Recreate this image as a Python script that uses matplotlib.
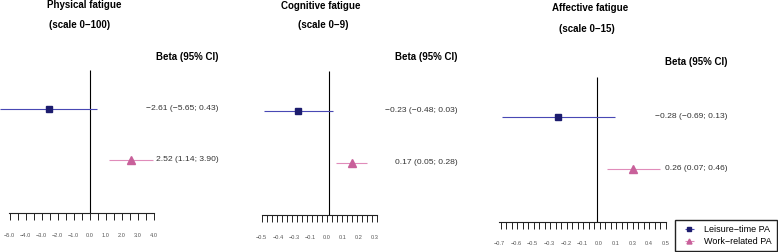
import matplotlib
matplotlib.use('Agg')

import matplotlib.pyplot as plt
import numpy as np

plt.rcParams['font.family'] = ['Liberation Sans', 'DejaVu Sans']

W, H = 778, 252

# Data
outcomes = ['Physical fatigue', 'Cognitive fatigue', 'Affective fatigue']
scales = ['(scale 0−100)', '(scale 0−9)', '(scale 0−15)']
groups = ['Leisure-time PA', 'Work-related PA']

beta_leisure = [-2.61, -0.23, -0.28]
lo_leisure = [-5.65, -0.48, -0.69]
hi_leisure = [0.43, 0.03, 0.13]

beta_work = [2.52, 0.17, 0.26]
lo_work = [1.14, 0.05, 0.07]
hi_work = [3.90, 0.28, 0.46]

tick_labels = [
    ['−5.0', '−4.0', '−3.0', '−2.0', '−1.0', '0.0', '1.0', '2.0', '3.0', '4.0'],
    ['−0.5', '−0.4', '−0.3', '−0.1', '0.0', '0.1', '0.2', '0.3'],
    ['−0.7', '−0.6', '−0.5', '−0.3', '−0.2', '−0.1', '0.0', '0.1', '0.3', '0.4', '0.5'],
]

# Layout of each panel, in pixels of the 778x252 picture
panels = [
    dict(x0=9, x1=154.3, lim=(-5.0, 4.0), axis_y=212.5, top=70, rows=(108.5, 159.5),
         n_ticks=19, lab_px=(7.5, 154), pad=14.5, text_x=219, head_y=57,
         title=(84, 5), sub=(80, 25)),
    dict(x0=261.7, x1=377.3, lim=(-0.491, 0.353), axis_y=214.5, top=71, rows=(110.5, 162.5),
         n_ticks=24, lab_px=(261, 375), pad=15, text_x=457.7, head_y=57,
         title=(321, 6), sub=(323, 25)),
    dict(x0=499.3, x1=666, lim=(-0.7, 0.5), axis_y=221.5, top=77, rows=(116.5, 168.5),
         n_ticks=31, lab_px=(498, 665.7), pad=14, text_x=727.7, head_y=62,
         title=(590, 8), sub=(587, 29)),
]

navy = '#1c1c6e'
navy_line = '#4848b4'
pink = '#c8609a'
pink_line = '#e08cba'


def fmt(b, lo, hi):
    s = f"{b:.2f} ({lo:.2f}; {hi:.2f})"
    return s.replace('-', '−')


fig = plt.figure(figsize=(W / 100, H / 100), dpi=100)
axes = []

for i, p in enumerate(panels):
    ax = fig.add_axes([p['x0'] / W, 0, (p['x1'] - p['x0']) / W, 1])
    ax.patch.set_visible(False)
    lo, hi = p['lim']
    ax.set_xlim(lo, hi)
    ax.set_ylim(H, 0)

    for side in ('left', 'right', 'top'):
        ax.spines[side].set_visible(False)
    ax.spines['bottom'].set_position(('data', p['axis_y']))
    ax.spines['bottom'].set_linewidth(0.8)
    ax.spines['bottom'].set_color('#222222')
    ax.set_yticks([])

    # tick marks (minor) and labels (major, no mark)
    ax.set_xticks(np.linspace(lo, hi, p['n_ticks']), minor=True)
    scale = (hi - lo) / (p['x1'] - p['x0'])
    a = lo + (p['lab_px'][0] - p['x0']) * scale
    b = lo + (p['lab_px'][1] - p['x0']) * scale
    ax.set_xticks(np.linspace(a, b, len(tick_labels[i])))
    ax.set_xticklabels(tick_labels[i])
    ax.tick_params(axis='x', which='minor', length=5, width=0.7,
                   direction='out', color='#222222')
    ax.tick_params(axis='x', which='major', length=0, pad=p['pad'],
                   labelsize=4.1, labelcolor='#555555')

    # null line
    ax.vlines(0, p['top'], p['axis_y'], color='black', lw=0.8)

    # estimates with 95% CI
    eb1 = ax.errorbar(beta_leisure[i], p['rows'][0],
                      xerr=[[beta_leisure[i] - lo_leisure[i]], [hi_leisure[i] - beta_leisure[i]]],
                      fmt='s', color=navy, ecolor=navy_line, elinewidth=0.8,
                      ms=5, capsize=0, label=groups[0], zorder=3)
    eb2 = ax.errorbar(beta_work[i], p['rows'][1],
                      xerr=[[beta_work[i] - lo_work[i]], [hi_work[i] - beta_work[i]]],
                      fmt='^', color=pink, ecolor=pink_line, elinewidth=0.8,
                      ms=6, capsize=0, label=groups[1], zorder=3)
    for eb in (eb1, eb2):
        for art in eb.get_children():
            art.set_clip_on(False)

    # text column
    fig.text(p['text_x'] / W, 1 - p['head_y'] / H, 'Beta (95% CI)',
             ha='right', va='center', fontsize=7, fontweight='bold')
    fig.text(p['text_x'] / W, 1 - p['rows'][0] / H,
             fmt(beta_leisure[i], lo_leisure[i], hi_leisure[i]),
             ha='right', va='center', fontsize=6.1, color='#333333')
    fig.text(p['text_x'] / W, 1 - p['rows'][1] / H,
             fmt(beta_work[i], lo_work[i], hi_work[i]),
             ha='right', va='center', fontsize=6.1, color='#333333')

    # titles
    fig.text(p['title'][0] / W, 1 - p['title'][1] / H, outcomes[i],
             ha='center', va='center', fontsize=7, fontweight='bold')
    fig.text(p['sub'][0] / W, 1 - p['sub'][1] / H, scales[i],
             ha='center', va='center', fontsize=7, fontweight='bold')
    axes.append(ax)

handles, labels = axes[2].get_legend_handles_labels()
labels = [l.replace('-', '−') for l in labels]
fig.legend(handles, labels, loc='lower right', bbox_to_anchor=(777 / W, 1 / H),
           borderaxespad=0, fontsize=6.5, fancybox=False, edgecolor='#222222',
           framealpha=1, handlelength=2, markerscale=0.6, borderpad=0.55,
           labelspacing=0.3, handletextpad=0.7)

fig.savefig('out.png', dpi=100)
plt.close(fig)
